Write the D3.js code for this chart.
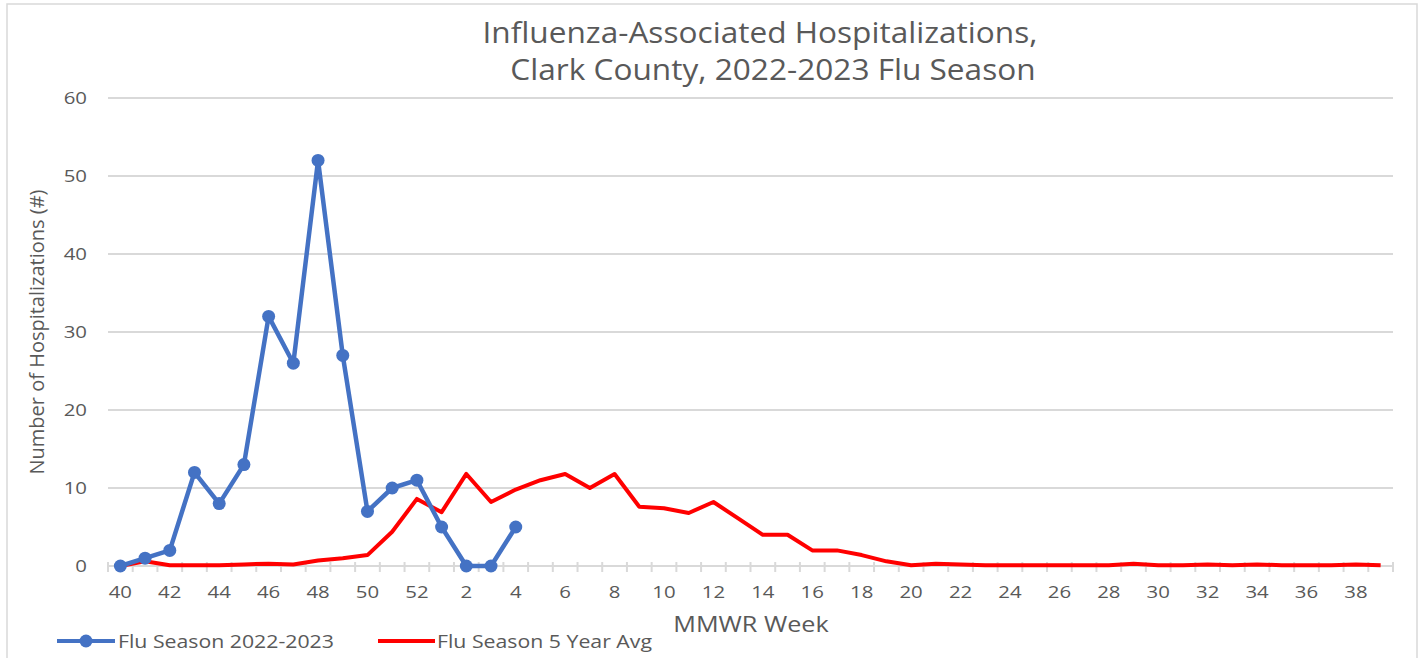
<!DOCTYPE html>
<html>
<head>
<meta charset="utf-8">
<script src="https://cdn.jsdelivr.net/npm/d3@7"></script>
<style>
  body { margin: 0; background: #fff; }
  text { font-family: "Open Sans", sans-serif; fill: #595959; }
</style>
</head>
<body>
<svg id="chart" width="1421" height="658"></svg>
<script>
// MMWR weeks of the season, 40..52 then 1..39
var weeks = [40, 41, 42, 43, 44, 45, 46, 47, 48, 49, 50, 51, 52,
  1, 2, 3, 4, 5, 6, 7, 8, 9, 10, 11, 12, 13, 14, 15, 16, 17, 18, 19, 20,
  21, 22, 23, 24, 25, 26, 27, 28, 29, 30, 31, 32, 33, 34, 35, 36, 37, 38, 39];

// 2022-2023 season (weeks 40 through 4)
var season2022 = [0, 1, 2, 12, 8, 13, 32, 26, 52, 27, 7, 10, 11, 5, 0, 0, 5];

// 5 year average, full season
var fiveYearAvg = [0, 0.6, 0.1, 0.1, 0.1, 0.2, 0.3, 0.2, 0.7, 1.0, 1.4, 4.4, 8.6,
  6.9, 11.8, 8.2, 9.8, 11.0, 11.8, 10.0, 11.8, 7.6, 7.4, 6.8, 8.2, 6.1, 4.0, 4.0,
  2.0, 2.0, 1.4, 0.6, 0.1, 0.3, 0.2, 0.1, 0.1, 0.1, 0.1, 0.1, 0.1, 0.3, 0.1, 0.1,
  0.2, 0.1, 0.2, 0.1, 0.1, 0.1, 0.2, 0.1];

var yTicks = [0, 10, 20, 30, 40, 50, 60];

var svg = d3.select("#chart");
var plotLeft = 108, plotRight = 1393, plotTop = 98, plotBottom = 566;

var x = d3.scaleBand().domain(d3.range(weeks.length)).range([plotLeft, plotRight]);
var y = d3.scaleLinear().domain([0, 60]).range([plotBottom, plotTop]);

function cx(i) { return x(i) + x.bandwidth() / 2; }

// text a little wider than the font, like the source picture
function label(parent, px, py, str, size, anchor, sx) {
  return parent.append("text")
    .attr("transform", "translate(" + px + "," + py + ") scale(" + (sx || 1.1) + ",1)")
    .attr("text-anchor", anchor || "start")
    .style("font-size", size + "px")
    .text(str);
}

// outer frame
svg.append("rect")
  .attr("x", 7).attr("y", 4)
  .attr("width", 1410).attr("height", 670)
  .style("fill", "none").style("stroke", "#d9d9d9").style("stroke-width", 1.5);

// gridlines
svg.append("g")
  .selectAll("line")
  .data(yTicks)
  .enter()
  .append("line")
  .attr("x1", plotLeft).attr("x2", plotRight)
  .attr("y1", function (d) { return y(d); })
  .attr("y2", function (d) { return y(d); })
  .style("stroke", "#d9d9d9").style("stroke-width", 2);

// y tick labels
var yLabels = svg.append("g");
yTicks.forEach(function (d) {
  label(yLabels, 87, y(d) + 6, d, 17, "end", 1.2);
});

// x axis ticks at band edges
var edges = d3.range(weeks.length + 1).map(function (i) {
  return i < weeks.length ? x(i) : plotRight;
});
svg.append("g")
  .selectAll("line")
  .data(edges)
  .enter()
  .append("line")
  .attr("x1", function (d) { return d; })
  .attr("x2", function (d) { return d; })
  .attr("y1", plotBottom - 4).attr("y2", plotBottom + 6)
  .style("stroke", "#d9d9d9").style("stroke-width", 2);

// x tick labels, every other week
var xLabels = svg.append("g");
weeks.forEach(function (d, i) {
  if (i % 2 === 0) label(xLabels, cx(i), 598, d, 17, "middle", 1.2);
});

// titles
label(svg, 760, 43, "Influenza-Associated Hospitalizations,", 29, "middle", 1.09);
label(svg, 773, 80, "Clark County, 2022-2023 Flu Season", 29, "middle", 1.09);

svg.append("text")
  .attr("transform", "translate(44,332) rotate(-90)")
  .attr("text-anchor", "middle")
  .style("font-size", "20px")
  .text("Number of Hospitalizations (#)");

label(svg, 751, 632, "MMWR Week", 21, "middle", 1.2);

var line = d3.line()
  .x(function (d, i) { return cx(i); })
  .y(function (d) { return y(d); });

svg.append("path")
  .attr("d", line(fiveYearAvg))
  .style("fill", "none").style("stroke", "#ff0000")
  .style("stroke-width", 4).style("stroke-linejoin", "round");

svg.append("path")
  .attr("d", line(season2022))
  .style("fill", "none").style("stroke", "#4472c4")
  .style("stroke-width", 4.5).style("stroke-linejoin", "round");

svg.append("g")
  .selectAll("circle")
  .data(season2022)
  .enter()
  .append("circle")
  .attr("cx", function (d, i) { return cx(i); })
  .attr("cy", function (d) { return y(d); })
  .attr("r", 6.5)
  .style("fill", "#4472c4");

// legend
var legend = svg.append("g");
legend.append("line")
  .attr("x1", 57).attr("x2", 115).attr("y1", 641).attr("y2", 641)
  .style("stroke", "#4472c4").style("stroke-width", 4);
legend.append("circle")
  .attr("cx", 86).attr("cy", 641).attr("r", 6.5)
  .style("fill", "#4472c4");
label(legend, 118, 648, "Flu Season 2022-2023", 19, "start", 1.12);
legend.append("line")
  .attr("x1", 378).attr("x2", 435).attr("y1", 641).attr("y2", 641)
  .style("stroke", "#ff0000").style("stroke-width", 4);
label(legend, 437, 648, "Flu Season 5 Year Avg", 19, "start", 1.12);
</script>
</body>
</html>
